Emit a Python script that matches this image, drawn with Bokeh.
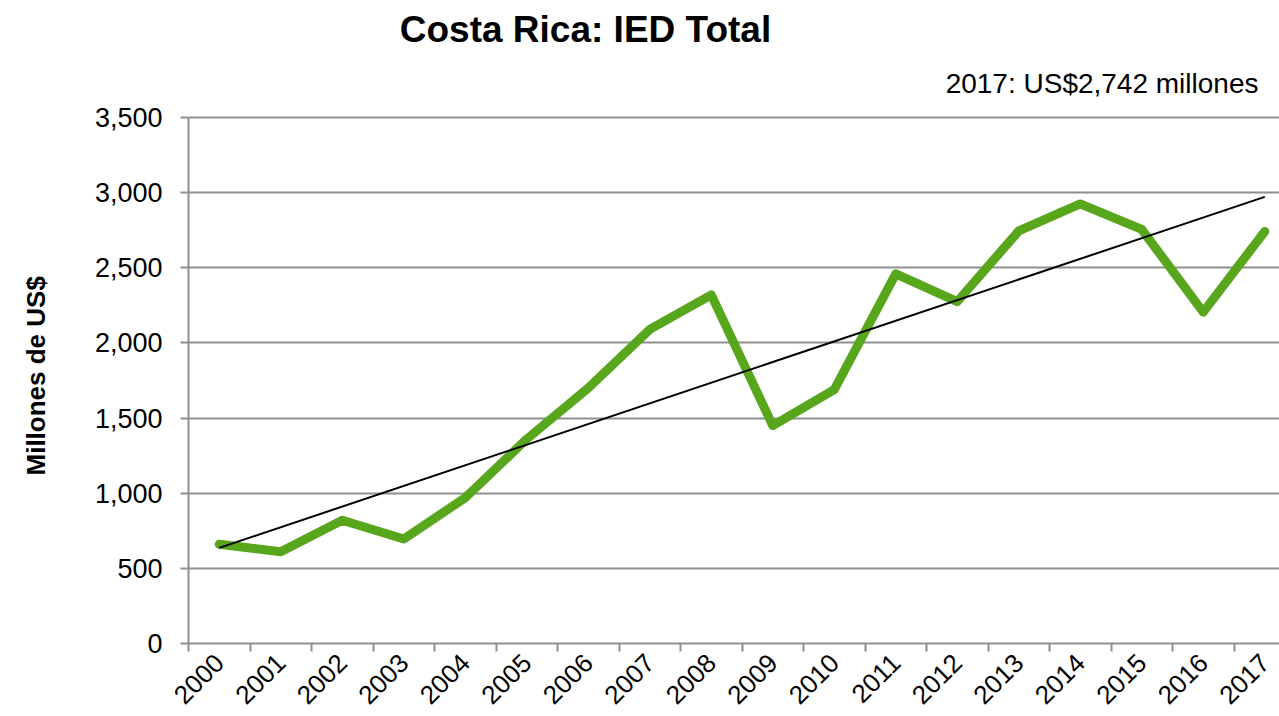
import numpy as np
from math import pi
from bokeh.plotting import figure
from bokeh.models import FixedTicker, NumeralTickFormatter, Label, Range1d, Title
from bokeh.embed import file_html
from bokeh.resources import INLINE

# ---- data ----
years = ["2000", "2001", "2002", "2003", "2004", "2005", "2006", "2007", "2008",
         "2009", "2010", "2011", "2012", "2013", "2014", "2015", "2016", "2017"]
ied = [660, 610, 820, 695, 970, 1360, 1700, 2090, 2320,
       1450, 1690, 2460, 2275, 2745, 2925, 2755, 2205, 2742]
y_ticks = [0, 500, 1000, 1500, 2000, 2500, 3000, 3500]
title_text = "Costa Rica: IED Total"
note_text = "2017: US$2,742 millones"
y_label = "Millones de US$"

# ---- derived ----
xs = [i + 0.5 for i in range(len(years))]
coef = np.polyfit(xs, ied, 1)
trend_x = [xs[0], xs[-1]]
trend_y = list(np.polyval(coef, trend_x))

FONT = "Liberation Sans"
GRID = "#8f8f8f"

W, H = 1279, 716
LEFT, BOTTOM = 188, 73
PLOT_H = 526                      # pixel height of the 0..3500 value band
y_top = (H - BOTTOM) * y_ticks[-1] / PLOT_H
x_end = (W - LEFT) / 61.5

p = figure(width=W, height=H, output_backend="svg", toolbar_location=None,
           x_range=Range1d(0, x_end), y_range=Range1d(0, y_top),
           min_border_left=LEFT, min_border_right=0, min_border_top=0,
           min_border_bottom=BOTTOM)
p.outline_line_color = None
p.background_fill_color = "white"
p.border_fill_color = "white"

# grid
p.xgrid.visible = False
p.ygrid.ticker = FixedTicker(ticks=y_ticks)
p.ygrid.grid_line_color = GRID
p.ygrid.grid_line_width = 2

# y axis
ya = p.yaxis[0]
ya.bounds = (y_ticks[0], y_ticks[-1])
ya.ticker = FixedTicker(ticks=y_ticks)
ya.formatter = NumeralTickFormatter(format="0,0")
ya.axis_line_color = GRID
ya.axis_line_width = 2
ya.major_tick_line_color = GRID
ya.major_tick_line_width = 2
ya.major_tick_out = 8
ya.major_tick_in = 0
ya.minor_tick_line_color = None
ya.major_label_text_font = FONT
ya.major_label_text_font_size = "27px"
ya.major_label_text_color = "black"
ya.major_label_standoff = 18

# blank spacer between the tick labels and the y-axis title
p.add_layout(Title(text="\u200b", standoff=9, text_font=FONT, text_font_size="26px",
                   text_color="white"), "left")
# y-axis title as a side title so it can be placed along the value band
p.add_layout(Title(text=y_label, align="left", offset=H - BOTTOM - 475, standoff=0,
                   text_font=FONT, text_font_style="bold", text_font_size="26px",
                   text_color="black"), "left")

# x axis
xa = p.xaxis[0]
xa.ticker = FixedTicker(ticks=xs, minor_ticks=list(range(len(years))))
xa.major_label_overrides = {x: y for x, y in zip(xs, years)}
xa.axis_line_color = GRID
xa.axis_line_width = 2
xa.major_tick_out = 0
xa.major_tick_in = 0
xa.major_tick_line_color = None
xa.minor_tick_line_color = GRID
xa.minor_tick_line_width = 2
xa.minor_tick_out = 8
xa.minor_tick_in = 0
xa.major_label_orientation = pi / 4
xa.major_label_text_font = FONT
xa.major_label_text_font_size = "26px"
xa.major_label_text_color = "black"
xa.major_label_standoff = 7

# series
p.line(xs, ied, line_color="#58a61c", line_width=9, line_join="round", line_cap="round")
p.line(trend_x, trend_y, line_color="black", line_width=2)

# texts (inside the frame, above the value band)
k = PLOT_H / y_ticks[-1]
p.add_layout(Label(x=(585 - LEFT) / 61.5, y=(H - BOTTOM - 29) / k, text=title_text,
                   text_align="center", text_baseline="alphabetic", text_font=FONT,
                   text_font_style="bold", text_font_size="37px", text_color="black"))
p.add_layout(Label(x=(1258 - LEFT) / 61.5, y=(H - BOTTOM - 83) / k, text=note_text,
                   text_align="right", text_baseline="alphabetic", text_font=FONT,
                   text_font_size="28px", text_color="black"))

open("out.html", "w").write(file_html(p, INLINE))
